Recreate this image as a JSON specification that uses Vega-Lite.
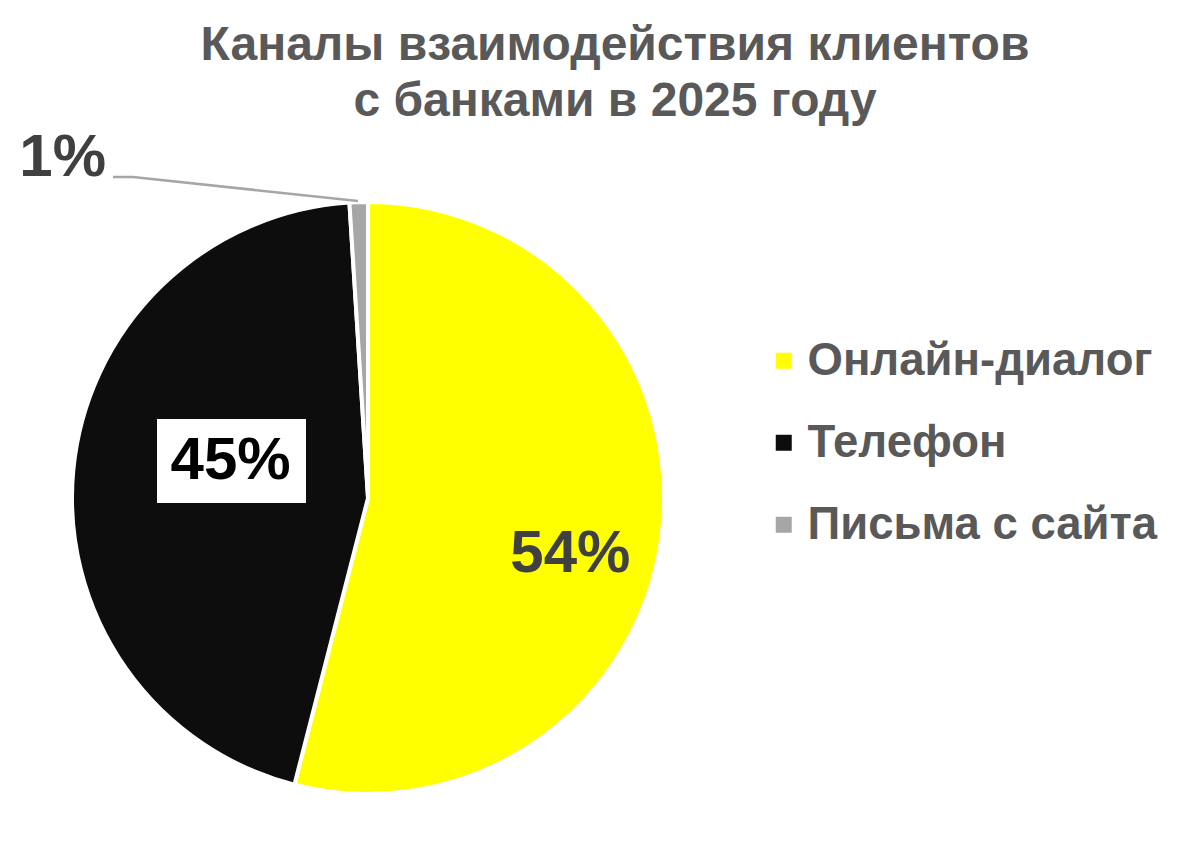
{
  "$schema": "https://vega.github.io/schema/vega-lite/v6.json",
  "width": 592,
  "height": 592,
  "padding": {"top": 202, "left": 72, "right": 536, "bottom": 73},
  "autosize": {"type": "none"},
  "background": "white",
  "title": {
    "text": ["Каналы взаимодействия клиентов", "с банками в 2025 году"],
    "font": "Liberation Sans",
    "fontSize": 48,
    "fontWeight": "bold",
    "color": "#595959",
    "lineHeight": 56,
    "anchor": "middle",
    "frame": "group",
    "dx": 247,
    "offset": 2
  },
  "data": {
    "values": [
      {"channel": "Онлайн-диалог", "share": 54, "idx": 1, "label": "54%"},
      {"channel": "Телефон", "share": 45, "idx": 2, "label": "45%"},
      {"channel": "Письма с сайта", "share": 1, "idx": 3, "label": "1%"}
    ]
  },
  "layer": [
    {
      "mark": {"type": "arc", "stroke": "white", "strokeWidth": 4, "outerRadius": 296},
      "encoding": {
        "theta": {"field": "share", "type": "quantitative", "stack": true},
        "order": {"field": "idx", "type": "quantitative"},
        "color": {
          "field": "channel",
          "type": "nominal",
          "scale": {
            "domain": ["Онлайн-диалог", "Телефон", "Письма с сайта"],
            "range": ["#FFFF00", "#0D0D0D", "#A6A6A6"]
          },
          "legend": {
            "title": null,
            "orient": "none",
            "legendX": 689,
            "legendY": 136,
            "labelFont": "Liberation Sans",
            "labelFontSize": 45.5,
            "labelFontWeight": "bold",
            "labelColor": "#595959",
            "labelLimit": 0,
            "labelOffset": 1,
            "symbolType": "square",
            "symbolSize": 256,
            "symbolStrokeWidth": 0,
            "rowPadding": 35
          }
        }
      }
    },
    {
      "transform": [{"filter": "datum.channel === 'Телефон'"}],
      "mark": {
        "type": "point",
        "shape": "M-2.11,-0.79L-0.62,-0.79L-0.62,0.05L-2.11,0.05Z",
        "size": 40000,
        "filled": true,
        "color": "white",
        "opacity": 1,
        "strokeWidth": 0
      },
      "encoding": {}
    },
    {
      "transform": [{"filter": "datum.channel === 'Письма с сайта'"}],
      "mark": {
        "type": "point",
        "shape": "M-0.10,-2.97L-2.35,-3.21L-2.55,-3.21",
        "size": 40000,
        "filled": false,
        "color": "#A6A6A6",
        "opacity": 1,
        "strokeWidth": 2.5
      },
      "encoding": {}
    },
    {
      "mark": {"type": "text", "radius": 204, "dy": 30, "font": "Liberation Sans", "fontSize": 60, "fontWeight": "bold", "color": "#404040", "baseline": "middle"},
      "encoding": {
        "theta": {"field": "share", "type": "quantitative", "stack": true},
        "order": {"field": "idx", "type": "quantitative"},
        "text": {"condition": {"test": "datum.channel === 'Онлайн-диалог'", "field": "label"}, "value": ""}
      }
    },
    {
      "mark": {"type": "text", "radius": 138, "dy": -24, "font": "Liberation Sans", "fontSize": 60, "fontWeight": "bold", "color": "#000000", "baseline": "middle"},
      "encoding": {
        "theta": {"field": "share", "type": "quantitative", "stack": true},
        "order": {"field": "idx", "type": "quantitative"},
        "text": {"condition": {"test": "datum.channel === 'Телефон'", "field": "label"}, "value": ""}
      }
    },
    {
      "mark": {"type": "text", "radius": 296, "dx": -296, "dy": -44, "font": "Liberation Sans", "fontSize": 60, "fontWeight": "bold", "color": "#404040", "baseline": "middle"},
      "encoding": {
        "theta": {"field": "share", "type": "quantitative", "stack": true},
        "order": {"field": "idx", "type": "quantitative"},
        "text": {"condition": {"test": "datum.channel === 'Письма с сайта'", "field": "label"}, "value": ""}
      }
    }
  ],
  "config": {"view": {"stroke": null}}
}
